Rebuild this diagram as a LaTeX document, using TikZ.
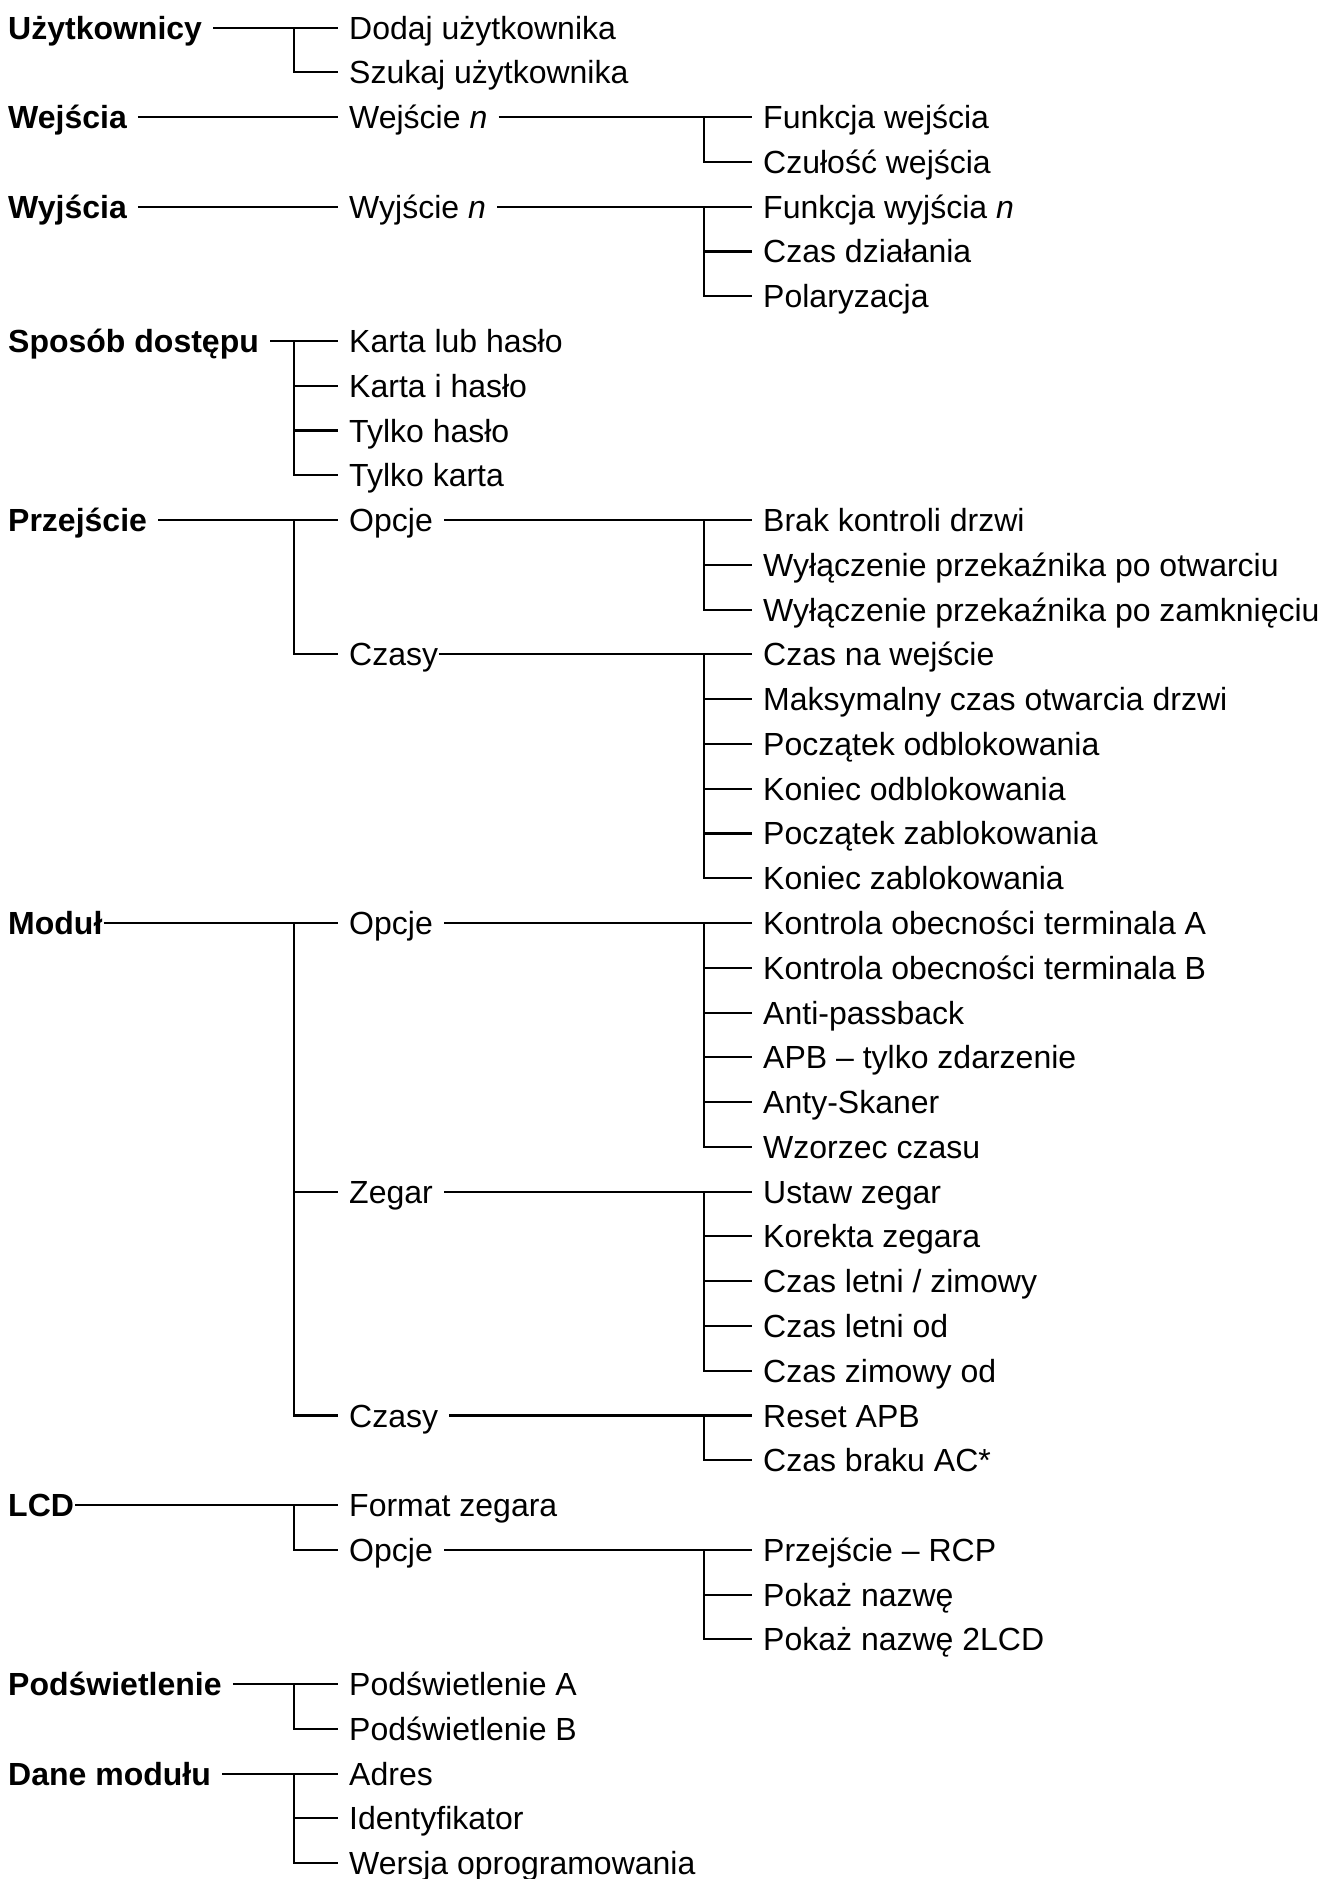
\documentclass[tikz,border=0pt]{standalone}
\usepackage{fontspec}
\setmainfont{Liberation Sans}
\usepackage{tikz}
\usetikzlibrary{positioning}

\tikzset{
  item/.style={anchor=west, inner xsep=11pt, inner ysep=0pt, text height=23pt, text depth=0pt, font=\fontsize{32}{38}\selectfont},
  head/.style={item, font=\fontsize{32}{38}\selectfont\bfseries},
  wire/.style={line width=2.1pt},
}

\begin{document}
\begin{tikzpicture}[x=1pt,y=-44.77pt]
    \useasboundingbox (0,-0.6165) rectangle (1338,41.353);
    \coordinate (b1) at (294,0);
    \coordinate (b2) at (704,0);
    % top level
    \node[head] (uzyt)   at (-3,0)  {Użytkownicy};
    \node[head] (wej)    at (-3,2)  {Wejścia};
    \node[head] (wyj)    at (-3,4)  {Wyjścia};
    \node[head] (sposob) at (-3,7)  {Sposób dostępu};
    \node[head] (przej)  at (-3,11) {Przejście};
    \node[head] (modul)  at (-3,20) {Moduł};
    \node[head] (lcd)    at (-3,33) {LCD};
    \node[head] (podsw)  at (-3,37) {Podświetlenie};
    \node[head] (dane)   at (-3,39) {Dane modułu};
    % second level
    \node[item] (dodaj)  at (338,0)  {Dodaj użytkownika};
    \node[item] (szukaj) at (338,1)  {Szukaj użytkownika};
    \node[item] (wejn)   at (338,2)  {Wejście \textit{n}};
    \node[item] (wyjn)   at (338,4)  {Wyjście \textit{n}};
    \node[item] (kluh)   at (338,7)  {Karta lub hasło};
    \node[item] (kih)    at (338,8)  {Karta i hasło};
    \node[item] (thaslo) at (338,9)  {Tylko hasło};
    \node[item] (tkarta) at (338,10) {Tylko karta};
    \node[item] (popc)   at (338,11) {Opcje};
    \node[item] (pczas)  at (338,14) {Czasy};
    \node[item] (mopc)   at (338,20) {Opcje};
    \node[item] (mzeg)   at (338,26) {Zegar};
    \node[item] (mczas)  at (338,31) {Czasy};
    \node[item] (format) at (338,33) {Format zegara};
    \node[item] (lopc)   at (338,34) {Opcje};
    \node[item] (podswa) at (338,37) {Podświetlenie A};
    \node[item] (podswb) at (338,38) {Podświetlenie B};
    \node[item] (adres)  at (338,39) {Adres};
    \node[item] (ident)  at (338,40) {Identyfikator};
    \node[item] (wersja) at (338,41) {Wersja oprogramowania};
    % third level
    \node[item] (fwej)    at (752,2)  {Funkcja wejścia};
    \node[item] (czwej)   at (752,3)  {Czułość wejścia};
    \node[item] (fwyj)    at (752,4)  {Funkcja wyjścia \textit{n}};
    \node[item] (czdz)    at (752,5)  {Czas działania};
    \node[item] (polar)   at (752,6)  {Polaryzacja};
    \node[item] (brak)    at (752,11) {Brak kontroli drzwi};
    \node[item] (wotw)    at (752,12) {Wyłączenie przekaźnika po otwarciu};
    \node[item] (wzam)    at (752,13) {Wyłączenie przekaźnika po zamknięciu};
    \node[item] (cnaw)    at (752,14) {Czas na wejście};
    \node[item] (maks)    at (752,15) {Maksymalny czas otwarcia drzwi};
    \node[item] (podbl)   at (752,16) {Początek odblokowania};
    \node[item] (kodbl)   at (752,17) {Koniec odblokowania};
    \node[item] (pzabl)   at (752,18) {Początek zablokowania};
    \node[item] (kzabl)   at (752,19) {Koniec zablokowania};
    \node[item] (kta)     at (752,20) {Kontrola obecności terminala A};
    \node[item] (ktb)     at (752,21) {Kontrola obecności terminala B};
    \node[item] (apb)     at (752,22) {Anti-passback};
    \node[item] (apbz)    at (752,23) {APB – tylko zdarzenie};
    \node[item] (skaner)  at (752,24) {Anty-Skaner};
    \node[item] (wzor)    at (752,25) {Wzorzec czasu};
    \node[item] (ustaw)   at (752,26) {Ustaw zegar};
    \node[item] (korekta) at (752,27) {Korekta zegara};
    \node[item] (letzim)  at (752,28) {Czas letni / zimowy};
    \node[item] (letod)   at (752,29) {Czas letni od};
    \node[item] (zimod)   at (752,30) {Czas zimowy od};
    \node[item] (reset)   at (752,31) {Reset APB};
    \node[item] (brakac)  at (752,32) {Czas braku AC*};
    \node[item] (rcp)     at (752,34) {Przejście – RCP};
    \node[item] (nazwa)   at (752,35) {Pokaż nazwę};
    \node[item] (nazwa2)  at (752,36) {Pokaż nazwę 2LCD};
    % branches, first level
    \draw[wire] (uzyt.east) -- (dodaj.west);
    \draw[wire] (uzyt.east -| b1) |- (szukaj.west);
    \draw[wire] (wej.east) -- (wejn.west);
    \draw[wire] (wyj.east) -- (wyjn.west);
    \draw[wire] (sposob.east) -- (kluh.west);
    \draw[wire] (sposob.east -| b1) |- (tkarta.west);
    \foreach \x in {kih,thaslo} \draw[wire] (\x.west -| b1) -- (\x.west);
    \draw[wire] (przej.east) -- (popc.west);
    \draw[wire] (przej.east -| b1) |- (pczas.west);
    \draw[wire] ([xshift=-10pt]modul.east) -- (mopc.west);
    \draw[wire] (modul.east -| b1) |- (mczas.west);
    \draw[wire] (mzeg.west -| b1) -- (mzeg.west);
    \draw[wire] ([xshift=-10pt]lcd.east) -- (format.west);
    \draw[wire] (lcd.east -| b1) |- (lopc.west);
    \draw[wire] (podsw.east) -- (podswa.west);
    \draw[wire] (podsw.east -| b1) |- (podswb.west);
    \draw[wire] (dane.east) -- (adres.west);
    \draw[wire] (dane.east -| b1) |- (wersja.west);
    \draw[wire] (ident.west -| b1) -- (ident.west);
    % branches, second level
    \draw[wire] (wejn.east) -- (fwej.west);
    \draw[wire] (wejn.east -| b2) |- (czwej.west);
    \draw[wire] (wyjn.east) -- (fwyj.west);
    \draw[wire] (wyjn.east -| b2) |- (polar.west);
    \draw[wire] (czdz.west -| b2) -- (czdz.west);
    \draw[wire] (popc.east) -- (brak.west);
    \draw[wire] (popc.east -| b2) |- (wzam.west);
    \draw[wire] (wotw.west -| b2) -- (wotw.west);
    \draw[wire] ([xshift=-10pt]pczas.east) -- (cnaw.west);
    \draw[wire] (pczas.east -| b2) |- (kzabl.west);
    \foreach \x in {maks,podbl,kodbl,pzabl} \draw[wire] (\x.west -| b2) -- (\x.west);
    \draw[wire] (mopc.east) -- (kta.west);
    \draw[wire] (mopc.east -| b2) |- (wzor.west);
    \foreach \x in {ktb,apb,apbz,skaner} \draw[wire] (\x.west -| b2) -- (\x.west);
    \draw[wire] (mzeg.east) -- (ustaw.west);
    \draw[wire] (mzeg.east -| b2) |- (zimod.west);
    \foreach \x in {korekta,letzim,letod} \draw[wire] (\x.west -| b2) -- (\x.west);
    \draw[wire] (mczas.east) -- (reset.west);
    \draw[wire] (mczas.east -| b2) |- (brakac.west);
    \draw[wire] (lopc.east) -- (rcp.west);
    \draw[wire] (lopc.east -| b2) |- (nazwa2.west);
    \draw[wire] (nazwa.west -| b2) -- (nazwa.west);
\end{tikzpicture}
\end{document}
